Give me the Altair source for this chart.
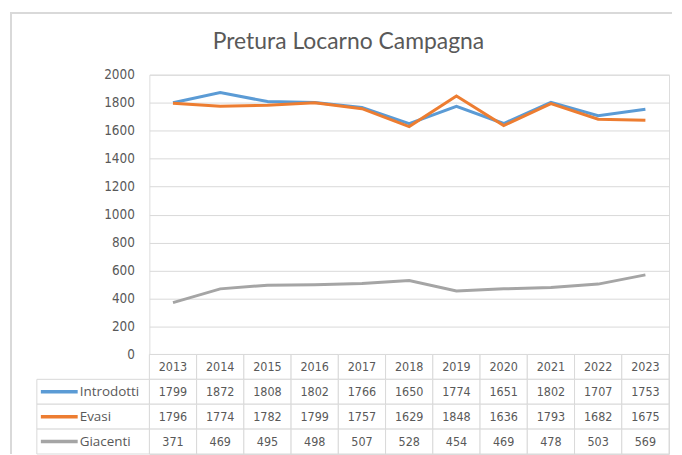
import altair as alt
import pandas as pd

years = [2013, 2014, 2015, 2016, 2017, 2018, 2019, 2020, 2021, 2022, 2023]
introdotti = [1799, 1872, 1808, 1802, 1766, 1650, 1774, 1651, 1802, 1707, 1753]
evasi = [1796, 1774, 1782, 1799, 1757, 1629, 1848, 1636, 1793, 1682, 1675]
giacenti = [371, 469, 495, 498, 507, 528, 454, 469, 478, 503, 569]
series_names = ["Introdotti", "Evasi", "Giacenti"]
series_colors = ["#5B9BD5", "#ED7D31", "#A5A5A5"]
title_text = "Pretura Locarno Campagna"
y_ticks = [0, 200, 400, 600, 800, 1000, 1200, 1400, 1600, 1800, 2000]

NFONT = "DejaVu Sans Condensed, sans-serif"
LFONT = "Open Sans, sans-serif"
TFONT = "Lato, sans-serif"
TEXT = "#595959"
GRID = "#D9D9D9"
W = 522
H = 281
ROWS_H = 100

year_order = [str(y) for y in years]
all_vals = [introdotti, evasi, giacenti]

long = []
for name, vals in zip(series_names, all_vals):
    for y, v in zip(years, vals):
        long.append({"year": str(y), "series": name, "value": v})
df = pd.DataFrame(long)

color_scale = alt.Scale(domain=series_names, range=series_colors)

lines = alt.Chart(df).mark_line(strokeWidth=3).encode(
    x=alt.X("year:O", sort=year_order, axis=None,
            scale=alt.Scale(type="point", padding=0.5)),
    y=alt.Y("value:Q", scale=alt.Scale(domain=[0, 2000]),
            axis=alt.Axis(values=y_ticks, format="d", title=None, domain=False, ticks=False,
                          grid=True, gridColor=GRID, labelColor=TEXT,
                          labelFont=NFONT, labelFontSize=13.5, labelPadding=15)),
    color=alt.Color("series:N", scale=color_scale, legend=None),
)

one = pd.DataFrame({"t": [title_text]})
frame_top = alt.Chart(one).mark_rule(stroke=GRID, strokeWidth=2).encode(
    x=alt.value(-140), x2=alt.value(525), y=alt.value(-62))
frame_left = alt.Chart(one).mark_rule(stroke=GRID, strokeWidth=2).encode(
    x=alt.value(-139), y=alt.value(-62), y2=alt.value(H + ROWS_H))
title = alt.Chart(one).mark_text(font=TFONT, fontSize=23, color=TEXT).encode(
    text="t:N", x=alt.value(200), y=alt.value(-33))

top = alt.layer(frame_top, frame_left, lines, title).properties(width=W, height=H)

rows_order = ["year"] + series_names
cells = []
for y in years:
    cells.append({"year": str(y), "row": "year", "label": str(y)})
for name, vals in zip(series_names, all_vals):
    for y, v in zip(years, vals):
        cells.append({"year": str(y), "row": name, "label": str(v)})
cdf = pd.DataFrame(cells)

xs = alt.X("year:O", sort=year_order, axis=None,
           scale=alt.Scale(paddingInner=0, paddingOuter=0))
ys = alt.Y("row:N", sort=rows_order, axis=None,
           scale=alt.Scale(domain=rows_order, paddingInner=0, paddingOuter=0))

cell_rect = alt.Chart(cdf).mark_rect(fill="white", stroke=GRID, strokeWidth=1).encode(x=xs, y=ys)
cell_text = alt.Chart(cdf).mark_text(font=NFONT, fontSize=12.5, color=TEXT, baseline="middle").encode(
    x=xs, y=ys, text="label:N")

ldf = pd.DataFrame({"row": series_names})
label_rect = alt.Chart(ldf).mark_rect(fill="white", stroke=GRID, strokeWidth=1).encode(
    x=alt.value(-113), x2=alt.value(0), y=ys)
swatch = alt.Chart(ldf).mark_rule(strokeWidth=3.5).encode(
    x=alt.value(-109), x2=alt.value(-72), y=ys,
    color=alt.Color("row:N", scale=color_scale, legend=None))
label_text = alt.Chart(ldf).mark_text(font=LFONT, fontSize=13.5, color=TEXT, align="left",
                                      baseline="middle").encode(
    x=alt.value(-70), y=ys, text="row:N")

table = alt.layer(cell_rect, cell_text, label_rect, swatch, label_text).properties(
    width=W, height=ROWS_H)

chart = alt.vconcat(top, table, spacing=0, bounds="flush").properties(
    padding={"left": 0, "top": 2, "right": 0, "bottom": 0}
).resolve_scale(color="shared").configure_view(strokeWidth=0).configure(background="white")

chart.save("out.html", embed_options={"renderer": "svg", "actions": False})
